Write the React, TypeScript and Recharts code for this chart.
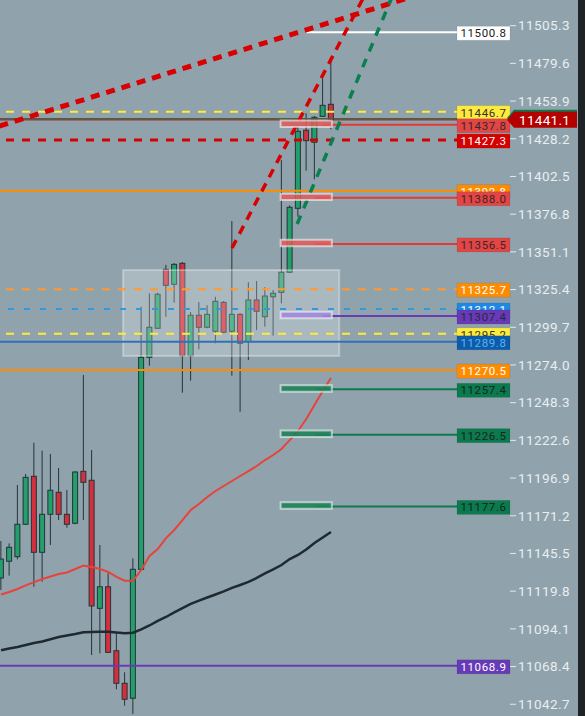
import { Bar, ComposedChart, Line, ReferenceArea, ReferenceLine, XAxis, YAxis } from "recharts";

// candles, oldest first (index = candle slot)
const opens = [
  11128.8, 11140.2, 11143.3, 11165.4, 11198.1, 11146.3, 11172.2, 11187.2, 11172.2, 11166.1,
  11201.5, 11195.4, 11108.1, 11122.8, 11079.2, 11057.0, 11046.8, 11134.7, 11279.2, 11299.0,
  11339.2, 11329.0, 11343.3, 11280.3, 11307.9, 11299.7, 11297.0, 11316.7, 11297.0, 11308.5,
  11289.9, 11318.3, 11306.9, 11320.5, 11323.5, 11337.2, 11380.8, 11434.0, 11425.8, 11443.5,
  11451.7,
];
const highs = [
  11154.0, 11152.4, 11192.2, 11199.7, 11221.0, 11215.6, 11213.3, 11203.8, 11188.8, 11201.7,
  11267.2, 11216.0, 11151.3, 11132.0, 11091.1, 11064.5, 11142.2, 11313.7, 11322.9, 11323.3,
  11342.2, 11343.5, 11344.2, 11310.1, 11316.9, 11314.7, 11320.5, 11317.6, 11372.1, 11309.4,
  11330.4, 11331.2, 11327.0, 11325.1, 11413.7, 11382.8, 11437.6, 11445.6, 11443.7, 11470.3,
  11481.2,
];
const lows = [
  11120.6, 11130.4, 11141.5, 11164.9, 11122.8, 11126.3, 11151.3, 11168.3, 11163.1, 11165.4,
  11168.3, 11076.3, 11077.4, 11077.6, 11052.9, 11041.7, 11036.1, 11134.0, 11273.5, 11299.0,
  11306.9, 11316.5, 11255.1, 11263.3, 11284.7, 11299.0, 11288.8, 11295.8, 11266.7, 11242.1,
  11277.4, 11297.8, 11300.1, 11294.0, 11316.0, 11336.7, 11375.1, 11406.4, 11400.6, 11443.0,
  11434.7,
];
const closes = [
  11141.7, 11149.7, 11165.4, 11197.4, 11146.3, 11172.2, 11188.6, 11172.2, 11165.4, 11201.0,
  11194.0, 11109.7, 11122.8, 11078.1, 11057.0, 11046.1, 11134.7, 11279.2, 11299.7, 11322.2,
  11328.3, 11342.6, 11280.3, 11307.9, 11299.7, 11308.5, 11317.4, 11296.3, 11308.5, 11288.8,
  11318.3, 11310.6, 11321.0, 11322.9, 11337.2, 11381.5, 11433.3, 11426.9, 11442.8, 11451.0,
  11441.1,
];

// moving averages
const maFast = [
  11117.5, 11119.2, 11121.3, 11123.7, 11126.0, 11128.1, 11129.8, 11131.5, 11132.5, 11134.9,
  11137.2, 11136.3, 11134.9, 11132.9, 11129.5, 11126.9, 11126.9, 11134.2, 11143.8, 11148.5,
  11156.0, 11161.5, 11168.3, 11175.1, 11179.2, 11184.0, 11188.1, 11191.5, 11194.9, 11198.3,
  11201.7, 11205.1, 11209.2, 11212.6, 11216.7, 11222.8, 11229.0, 11237.2, 11246.7, 11256.3,
  11265.1,
];
const maSlow = [
  11079.5, 11080.7, 11081.7, 11083.1, 11084.5, 11085.5, 11087.0, 11088.6, 11089.6, 11090.6,
  11091.8, 11092.0, 11092.2, 11092.2, 11091.6, 11091.1, 11091.5, 11093.7, 11096.4, 11099.5,
  11102.2, 11105.3, 11108.3, 11111.1, 11113.4, 11115.5, 11117.5, 11119.6, 11122.0, 11124.0,
  11126.1, 11128.8, 11131.9, 11134.6, 11137.6, 11141.7, 11144.5, 11148.2, 11152.6, 11156.4,
  11160.1,
];

const yTicks = [
  11505.3, 11479.6, 11453.9, 11428.2, 11402.5, 11376.8, 11351.1, 11325.4, 11299.7, 11274.0,
  11248.3, 11222.6, 11196.9, 11171.2, 11145.5, 11119.8, 11094.1, 11068.4, 11042.7,
];

// horizontal levels; levelFrom = candle slot where the line starts (null = full width)
const levelPrices = [
  11500.8, 11446.7, 11437.8, 11427.3, 11392.8, 11388.0, 11356.5, 11325.7, 11312.1, 11307.4,
  11295.2, 11289.8, 11270.5, 11257.4, 11226.5, 11177.6, 11068.9,
];
const levelFrom: (number | null)[] = [
  37.0, null, 39.0, null, null, 38.1, 38.1, null, null, 39.0,
  null, null, null, 38.1, 38.1, 38.1, null,
];

// order zones
const zonePrices = [11437.8, 11388.0, 11356.5, 11307.4, 11257.4, 11226.5, 11177.6];
const zoneKinds = ["sell", "sell", "sell", "mid", "buy", "buy", "buy"];
const zoneSlots = [33.9, 40.1];

// consolidation box
const boxSlots = [14.8, 41.0];
const boxPrices = [11280.1, 11338.7];

// trend lines: [slot, price] pairs
const trendShallow = [[-0.2, 11436.8], [52.4, 11529.6]];
const trendSteepRed = [[28.0, 11353.7], [44.1, 11526.2]];
const trendSteepGreen = [[35.9, 11370.1], [47.5, 11526.2]];

const bidPrice = 11442.0;
const lastPrice = 11441.1;

const X_MAX = 61.7;
const BG = "#90a3ac";
const WICK = "#263238";

type LevelStyle = { stroke: string; width: number; dash?: string; fill: string; text: string };
const RED_ZONE: LevelStyle = { stroke: "#e53935", width: 2, fill: "#e24545", text: "#3b2626" };
const GREEN_ZONE: LevelStyle = { stroke: "#0b7a4e", width: 2, fill: "#0b7a4e", text: "#14261d" };
const levelStyles: LevelStyle[] = [
  { stroke: "#ffffff", width: 2, fill: "#ffffff", text: "#1a1a1a" },
  { stroke: "#ffeb3b", width: 2, dash: "8 8", fill: "#ffeb3b", text: "#333333" },
  RED_ZONE,
  { stroke: "#d50000", width: 3, dash: "8 8", fill: "#d50000", text: "#ffffff" },
  { stroke: "#ff8c00", width: 2, fill: "#ff8c00", text: "#ffffff" },
  RED_ZONE,
  RED_ZONE,
  { stroke: "#ff9a2e", width: 2, dash: "8 8", fill: "#ff8c00", text: "#ffffff" },
  { stroke: "#2e9be0", width: 2, dash: "6 10", fill: "#1e88e5", text: "#ffffff" },
  { stroke: "#673ab7", width: 2, fill: "#673ab7", text: "#2b2640" },
  { stroke: "#ffeb3b", width: 2, dash: "8 8", fill: "#ffeb3b", text: "#333333" },
  { stroke: "#2f72b8", width: 2, fill: "#0d5cab", text: "#5ab4f0" },
  { stroke: "#ff8c00", width: 2, fill: "#ff8c00", text: "#ffffff" },
  GREEN_ZONE,
  GREEN_ZONE,
  GREEN_ZONE,
  { stroke: "#673ab7", width: 2, fill: "#673ab7", text: "#ffffff" },
];

const zoneFill: Record<string, string> = {
  sell: "rgba(222,92,92,0.85)",
  mid: "rgba(160,140,215,0.9)",
  buy: "rgba(30,130,90,0.9)",
};

const rows = opens.map((open, i) => ({
  i,
  open,
  high: highs[i],
  low: lows[i],
  close: closes[i],
  range: [lows[i], highs[i]],
  maFast: maFast[i],
  maSlow: maSlow[i],
}));

function Candle(props: any) {
  const { x, y, width, height, payload } = props;
  if (x == null || !payload) return null;
  const { open, close, high, low } = payload;
  const top0 = Math.min(y, y + height);
  const h = Math.abs(height);
  const k = high === low ? 0 : h / (high - low);
  const cx = x + width / 2;
  const bodyTop = top0 + (high - Math.max(open, close)) * k;
  const bodyBot = top0 + (high - Math.min(open, close)) * k;
  const up = close >= open;
  return (
    <g>
      <line x1={cx} x2={cx} y1={top0} y2={top0 + h} stroke={WICK} strokeWidth={1} />
      <rect
        x={cx - 2.5}
        y={bodyTop}
        width={5}
        height={Math.max(1, bodyBot - bodyTop)}
        fill={up ? "#22a06b" : "#d32f3c"}
        stroke={WICK}
        strokeWidth={1}
      />
    </g>
  );
}

function PriceTag(props: any) {
  const { viewBox, price, style } = props;
  if (!viewBox) return null;
  const right = viewBox.x + viewBox.width;
  const cy = viewBox.y + 1;
  return (
    <g>
      <rect x={right - 53} y={cy - 7} width={53} height={14} fill={style.fill} stroke="rgba(0,0,0,0.08)" />
      <text
        x={right - 26.5}
        y={cy + 4}
        textAnchor="middle"
        fontSize={11.5}
        letterSpacing={0.6}
        fontFamily="Roboto"
        fill={style.text}
      >
        {price.toFixed(1)}
      </text>
    </g>
  );
}

function LastTag(props: any) {
  const { viewBox, price } = props;
  if (!viewBox) return null;
  const left = viewBox.x + viewBox.width - 3;
  const cy = viewBox.y;
  const shape = (dy: number) =>
    `${left},${cy + dy} ${left + 7},${cy + dy - 8} 577,${cy + dy - 8} 577,${cy + dy + 8} ${left + 7},${cy + dy + 8}`;
  return (
    <g>
      <polygon points={shape(-2)} fill="#0b7a4e" />
      <polygon points={shape(0)} fill="#b50000" />
      <text x={left + 12} y={cy + 5} fontSize={13.5} fontFamily="Roboto" fill="#ffffff" letterSpacing={0.3}>
        {price.toFixed(1)}
      </text>
    </g>
  );
}

const seg = (pts: number[][]) => pts.map(([x, y]) => ({ x, y }));

export default function App() {
  return (
    <div
      style={{
        position: "absolute",
        left: 0,
        top: 0,
        width: 585,
        height: 716,
        overflow: "hidden",
        background: BG,
        display: "flex",
        fontFamily: "Roboto",
      }}
    >
      <ComposedChart width={578} height={716} data={rows} margin={{ top: 0, right: 0, bottom: 0, left: 0 }}>
        <XAxis type="number" dataKey="i" domain={[-0.12, X_MAX]} hide allowDataOverflow />
        <YAxis
          orientation="right"
          domain={[11034.7, 11522.8]}
          ticks={yTicks}
          interval={0}
          allowDataOverflow
          width={68}
          axisLine={false}
          tickSize={6}
          tickMargin={2}
          tickLine={{ stroke: "#e3e9ec" }}
          tick={{ fill: "#e9eef1", fontSize: 13.5, fontFamily: "Roboto", letterSpacing: 0.4 }}
          tickFormatter={(v: number) => v.toFixed(1)}
        />

        <Bar
          dataKey="range"
          barSize={6}
          isAnimationActive={false}
          activeBar={false}
          shape={(p: any) => <Candle {...p} />}
        />

        <ReferenceArea
          x1={boxSlots[0]}
          x2={boxSlots[1]}
          y1={boxPrices[0]}
          y2={boxPrices[1]}
          fill="#ffffff"
          fillOpacity={0.24}
          stroke="rgba(255,255,255,0.3)"
          strokeWidth={2}
          zIndex={350}
        />

        <Line
          dataKey="maSlow"
          type="linear"
          stroke="#1f2a30"
          strokeWidth={2.5}
          dot={false}
          activeDot={false}
          isAnimationActive={false}
        />
        <Line
          dataKey="maFast"
          type="linear"
          stroke="#e8433a"
          strokeWidth={2}
          dot={false}
          activeDot={false}
          isAnimationActive={false}
        />

        {/* bid / last thin lines */}
        <ReferenceLine y={bidPrice} stroke="#137a50" strokeWidth={1} zIndex={420} />
        <ReferenceLine y={lastPrice} stroke="#b00000" strokeWidth={1} zIndex={420} />

        {levelPrices.map((p, k) => {
          const st = levelStyles[k];
          const from = levelFrom[k];
          return from == null ? (
            <ReferenceLine
              key={`lv${k}`}
              y={p}
              stroke={st.stroke}
              strokeWidth={st.width}
              strokeDasharray={st.dash}
              zIndex={420}
            />
          ) : (
            <ReferenceLine
              key={`lv${k}`}
              segment={seg([[from, p], [X_MAX, p]])}
              stroke={st.stroke}
              strokeWidth={st.width}
              strokeDasharray={st.dash}
              ifOverflow="hidden"
              zIndex={420}
            />
          );
        })}

        <ReferenceLine
          segment={seg(trendShallow)}
          stroke="#d80000"
          strokeWidth={5}
          strokeDasharray="9 7"
          ifOverflow="hidden"
          zIndex={430}
        />
        <ReferenceLine
          segment={seg(trendSteepRed)}
          stroke="#d80000"
          strokeWidth={3.5}
          strokeDasharray="9 7"
          ifOverflow="hidden"
          zIndex={430}
        />
        <ReferenceLine
          segment={seg(trendSteepGreen)}
          stroke="#0a8050"
          strokeWidth={3.5}
          strokeDasharray="9 8"
          ifOverflow="hidden"
          zIndex={430}
        />

        {zonePrices.map((p, k) => (
          <ReferenceArea
            key={`zn${k}`}
            x1={zoneSlots[0]}
            x2={zoneSlots[1]}
            y1={p - 1.6}
            y2={p + 2.8}
            fill={zoneFill[zoneKinds[k]]}
            fillOpacity={1}
            stroke="rgba(255,255,255,0.55)"
            strokeWidth={2}
            zIndex={450}
          />
        ))}

        {levelPrices.map((p, k) => (
          <ReferenceLine
            key={`tag${k}`}
            y={p}
            stroke="none"
            zIndex={600}
            label={<PriceTag price={p} style={levelStyles[k]} />}
          />
        ))}
        <ReferenceLine y={lastPrice} stroke="none" zIndex={600} label={<LastTag price={lastPrice} />} />
      </ComposedChart>
      <div style={{ width: 7, height: 716, background: "#1e2326" }} />
    </div>
  );
}
